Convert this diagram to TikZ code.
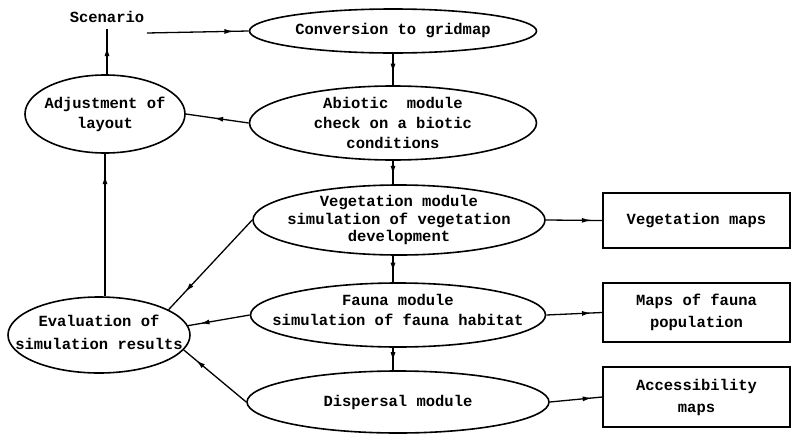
\documentclass[tikz,border=0pt]{standalone}
\usepackage{fontspec}
\newfontfamily\tw{Liberation Mono}
\usetikzlibrary{shapes.geometric,arrows.meta,decorations.markings}
\tikzset{
  txt/.style={font=\tw\bfseries\fontsize{15.5}{20}\selectfont, align=center, inner sep=0pt},
  ell/.style={ellipse, draw, line width=1.6pt, inner sep=0pt},
  mapbox/.style={txt, rectangle, draw, line width=1.6pt},
  conn/.style={line width=1.3pt},
  midarrow/.style={postaction={decorate},decoration={markings,mark=at position #1 with {\arrow{Latex[length=9pt,width=5pt]}}}}
}
\begin{document}
\begin{tikzpicture}[x=1pt,y=-1pt]
\useasboundingbox (0,0) rectangle (792,434);
\node[txt] (scen) at (107,17) {Scenario};
\coordinate (sc) at (147,33);
\node[ell, minimum width=287pt, minimum height=44pt] (conv) at (393,31) {};
\node[txt] (convt) at (conv) {Conversion to gridmap};
\node[ell, minimum width=287pt, minimum height=74pt] (abio) at (393,123) {};
\node[txt] (abiot) at (abio) {Abiotic~~module\\check on a biotic\\conditions};
\node[ell, minimum width=160pt, minimum height=78pt] (adj) at (105,114) {};
\node[txt] (adjt) at (adj) {Adjustment of\\layout};
\node[ell, minimum width=292pt, minimum height=70pt] (veg) at (399,220) {};
\node[txt, font=\tw\bfseries\fontsize{15.5}{17.5}\selectfont] (vegt) at (veg) {Vegetation module\\simulation of vegetation\\development};
\node[ell, minimum width=295pt, minimum height=64pt] (fauna) at (398,315) {};
\node[txt] (faunat) at ([yshift=5pt]fauna.center) {Fauna module\\simulation of fauna habitat};
\node[ell, minimum width=302pt, minimum height=62pt] (disp) at (398,402) {};
\node[txt] (dispt) at (disp) {Dispersal module};
\node[ell, minimum width=182pt, minimum height=76pt] (eval) at (99,335) {};
\node[txt, font=\tw\bfseries\fontsize{15.5}{23}\selectfont] (evalt) at ([yshift=3pt]eval.center) {Evaluation of\\simulation results};
\node[mapbox, minimum width=187pt, minimum height=55pt] (vmaps) at (696.5,220.5) {Vegetation maps};
\node[mapbox, minimum width=187pt, minimum height=59pt, font=\tw\bfseries\fontsize{15.5}{22}\selectfont] (fmaps) at (696.5,312.5) {Maps of fauna\\population};
\node[mapbox, minimum width=187pt, minimum height=60pt, font=\tw\bfseries\fontsize{15.5}{22}\selectfont] (amaps) at (696.5,397) {Accessibility\\maps};

\draw[conn, midarrow=0.85] (sc) -- (conv.west);
\draw[conn, midarrow=0.6] (conv.south) -- (conv.south |- abio.north);
\draw[conn, midarrow=0.6] (abio.south) -- (abio.south |- veg.north);
\draw[conn, midarrow=0.6] (abio.south |- veg.south) -- (abio.south |- fauna.north);
\draw[conn, midarrow=0.6] (abio.south |- fauna.south) -- (abio.south |- disp.north);
\draw[conn, midarrow=0.55] (abio.west) -- (adj.east);
\draw[conn, midarrow=0.6] (adj.north -| scen.south) -- ([yshift=-6pt]scen.south);
\draw[conn, midarrow=0.85] (adj.south |- eval.north) -- (adj.south);
\draw[conn, midarrow=0.8] (veg.west) -- (eval.20);
\draw[conn, midarrow=0.8] (fauna.west) -- (eval.6);
\draw[conn, midarrow=0.8] (disp.west) -- (eval.-10);
\draw[conn, midarrow=0.8] (veg.east) -- (vmaps.west);
\draw[conn, midarrow=0.8] (fauna.east) -- (fmaps.west);
\draw[conn, midarrow=0.8] (disp.east) -- (amaps.west);
\end{tikzpicture}
\end{document}
